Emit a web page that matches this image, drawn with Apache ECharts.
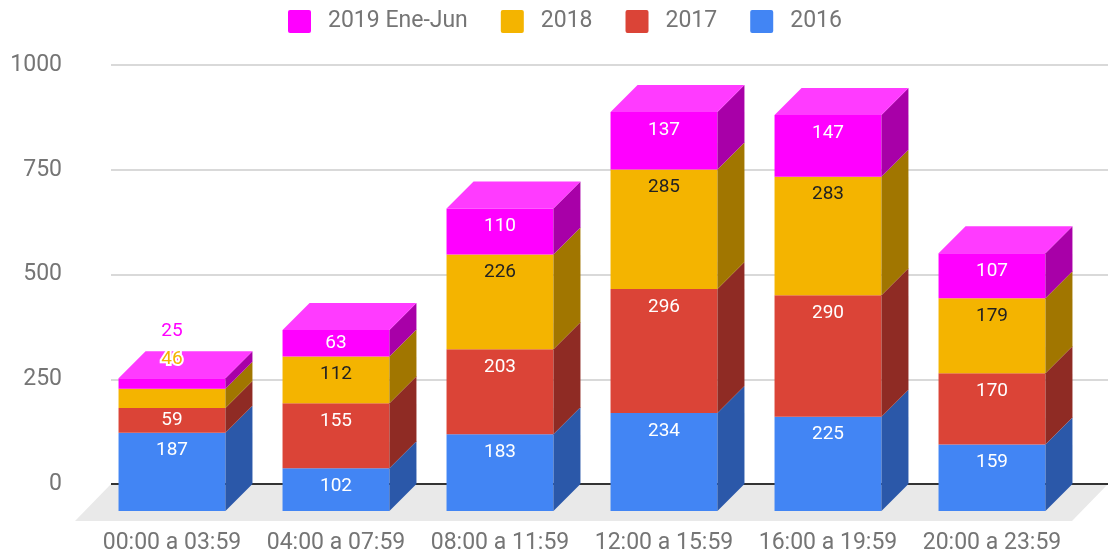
<!DOCTYPE html>
<html>
<head>
<meta charset="utf-8">
<script src="https://cdn.jsdelivr.net/npm/echarts@6/dist/echarts.min.js"></script>
<style>
  html, body { margin: 0; padding: 0; background: #fff; }
  #chart { width: 1110px; height: 559px; }
</style>
</head>
<body>
<div id="chart"></div>
<script>
// data
const categories = ['00:00 a 03:59', '04:00 a 07:59', '08:00 a 11:59', '12:00 a 15:59', '16:00 a 19:59', '20:00 a 23:59']
const values2016 = [187, 102, 183, 234, 225, 159]
const values2017 = [59, 155, 203, 296, 290, 170]
const values2018 = [46, 112, 226, 285, 283, 179]
const values2019 = [25, 63, 110, 137, 147, 107]
const seriesNames = ['2016', '2017', '2018', '2019 Ene-Jun']
const yMin = 0
const yMax = 1000
const yInterval = 250

const allValues = [values2016, values2017, values2018, values2019]

// look of the 3d boxes
const faces = [
  { front: '#4285f4', side: '#2b58a9', top: '#5d97f6', text: '#ffffff' },
  { front: '#db4437', side: '#8f2b24', top: '#e2665b', text: '#ffffff' },
  { front: '#f4b400', side: '#a17600', top: '#f6c233', text: '#222222' },
  { front: '#ff00ff', side: '#a800a8', top: '#ff3bff', text: '#ffffff' }
]
const DX = 27          // depth offset to the right
const DY = 27          // depth offset upwards
const BAR_RATIO = 0.652
const FONT = 'Roboto, "Noto Sans", sans-serif'
const MIN_INSIDE = 22  // px, smaller segments get their label above the bar
const LEGEND_ICON = 'path://M2,0H21A2,2 0 0 1 23,2V21A2,2 0 0 1 21,23H2A2,2 0 0 1 0,21V2A2,2 0 0 1 2,0Z'

const chart = echarts.init(document.getElementById('chart'), null, { renderer: 'canvas' })

const totals = categories.map((_, i) => allValues.reduce((s, arr) => s + arr[i], 0))

const makeRenderer = (k) => (params, api) => {
  const i = api.value(0)
  const base = api.value(1)
  const val = api.value(2)
  const pb = api.coord([i, base])
  const pt = api.coord([i, base + val])
  const bw = api.size([1, 0])[0] * BAR_RATIO
  const x0 = pb[0] - bw / 2
  const x1 = pb[0] + bw / 2
  const yb = pb[1] + DY
  const yt = pt[1] + DY
  const f = faces[k]
  const children = [
    { type: 'polygon', shape: { points: [[x0, yb], [x1, yb], [x1, yt], [x0, yt]] }, style: { fill: f.front } },
    { type: 'polygon', shape: { points: [[x1, yb], [x1 + DX, yb - DY], [x1 + DX, yt - DY], [x1, yt]] }, style: { fill: f.side } }
  ]
  if (k === allValues.length - 1) {
    children.push({ type: 'polygon', shape: { points: [[x0, yt], [x1, yt], [x1 + DX, yt - DY], [x0 + DX, yt - DY]] }, style: { fill: f.top } })
  }
  const h = yb - yt
  if (h >= MIN_INSIDE) {
    children.push({
      type: 'text', z2: 50,
      style: { text: String(val), x: pb[0], y: yt + Math.min(18, h / 2), fill: f.text, align: 'center', verticalAlign: 'middle', fontSize: 19, fontFamily: FONT }
    })
  } else {
    // count the small segments below this one in the same bar
    const zero = api.coord([i, 0])[1]
    let idx = 0
    for (let j = 0; j < k; j++) {
      if (zero - api.coord([i, allValues[j][i]])[1] < MIN_INSIDE) idx++
    }
    const frontTop = api.coord([i, totals[i]])[1] + DY
    children.push({
      type: 'text', z2: 50,
      style: { text: String(val), x: pb[0], y: frontTop - 19 - 28 * idx, fill: f.front, stroke: '#fff', lineWidth: 4, align: 'center', verticalAlign: 'middle', fontSize: 19, fontFamily: FONT }
    })
  }
  return { type: 'group', children }
}

const barSeries = allValues.map((arr, k) => ({
  name: seriesNames[k],
  type: 'custom',
  xAxisIndex: 1,
  yAxisIndex: 1,
  itemStyle: { color: faces[k].front },
  renderItem: makeRenderer(k),
  data: arr.map((v, i) => {
    let base = 0
    for (let j = 0; j < k; j++) base += allValues[j][i]
    return [i, base, v]
  })
}))

const floorSeries = {
  type: 'custom',
  xAxisIndex: 0,
  yAxisIndex: 0,
  silent: true,
  renderItem: (params, api) => {
    const cs = params.coordSys
    const y0 = api.coord([0, yMin])[1]
    const fx = 36
    const fy = 37
    return {
      type: 'group',
      children: [
        { type: 'polygon', shape: { points: [[cs.x, y0], [cs.x + cs.width, y0], [cs.x + cs.width - fx, y0 + fy], [cs.x - fx, y0 + fy]] }, style: { fill: '#e9e9e9' } },
        { type: 'line', shape: { x1: cs.x, y1: y0, x2: cs.x + cs.width, y2: y0 }, style: { stroke: '#333', lineWidth: 2 } }
      ]
    }
  },
  data: [[0]]
}

const option = {
  animation: false,
  color: faces.map(f => f.front),
  legend: {
    data: seriesNames.slice().reverse(),
    top: 5,
    left: 283,
    icon: LEGEND_ICON,
    itemWidth: 23,
    itemHeight: 23,
    itemGap: 33,
    textStyle: { fontSize: 23, color: '#757575', fontFamily: FONT, padding: [0, 0, 0, 12] }
  },
  grid: [
    { left: 111, right: 2, top: 65, bottom: 75 },
    { left: 90, right: 36, top: 65, bottom: 75 }
  ],
  xAxis: [
    { type: 'value', gridIndex: 0, min: 0, max: 1, show: false },
    {
      type: 'category',
      gridIndex: 1,
      data: categories,
      axisLine: { show: false },
      axisTick: { show: false },
      axisLabel: { interval: 0, fontSize: 23, color: '#757575', fontFamily: FONT, margin: 48 }
    }
  ],
  yAxis: [
    {
      type: 'value',
      gridIndex: 0,
      min: yMin,
      max: yMax,
      interval: yInterval,
      axisLine: { show: false },
      axisTick: { show: false },
      axisLabel: { fontSize: 23, color: '#757575', fontFamily: FONT, margin: 49, formatter: v => String(v) },
      splitLine: { showMinLine: false, lineStyle: { color: '#cccccc', width: 1.5 } }
    },
    { type: 'value', gridIndex: 1, min: yMin, max: yMax, interval: yInterval, show: false, splitLine: { show: false } }
  ],
  series: [floorSeries, ...barSeries]
}

chart.setOption(option)
</script>
</body>
</html>
